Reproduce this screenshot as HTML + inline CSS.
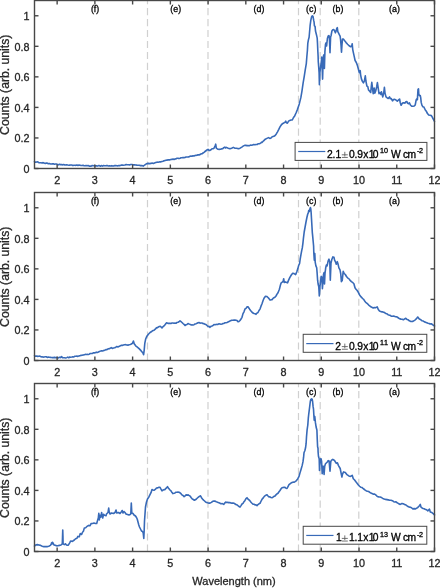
<!DOCTYPE html><html><head><meta charset="utf-8"><style>html,body{margin:0;padding:0;background:#fff;width:440px;height:588px;overflow:hidden}svg{display:block;will-change:transform;filter:blur(0.3px)}text{font-family:"Liberation Sans",sans-serif;fill:#262626;stroke:#262626;stroke-width:0.3}</style></head><body>
<svg width="440" height="588" viewBox="0 0 440 588">
<rect width="440" height="588" fill="#fff"/>
<line x1="147.5" y1="168.5" x2="147.5" y2="0.5" stroke="#d0d0d0" stroke-width="1.2" stroke-dasharray="7.1 3.85"/>
<line x1="208" y1="168.5" x2="208" y2="0.5" stroke="#d0d0d0" stroke-width="1.2" stroke-dasharray="7.1 3.85"/>
<line x1="298.5" y1="168.5" x2="298.5" y2="0.5" stroke="#d0d0d0" stroke-width="1.2" stroke-dasharray="7.1 3.85"/>
<line x1="320.2" y1="168.5" x2="320.2" y2="0.5" stroke="#d0d0d0" stroke-width="1.2" stroke-dasharray="7.1 3.85"/>
<line x1="358.8" y1="168.5" x2="358.8" y2="0.5" stroke="#d0d0d0" stroke-width="1.2" stroke-dasharray="7.1 3.85"/>
<polyline points="34.5,161.7 35.58,162.23 36.66,161.96 37.73,161.77 38.81,162.65 39.89,162.83 40.97,162.7 42.04,162.93 43.12,162.61 44.2,163.1 45.22,163.42 46.24,163.11 47.26,163.05 48.28,163.77 49.3,163.53 50.32,163.86 51.34,163.96 52.36,163.7 53.38,163.84 54.4,164.2 55.43,163.96 56.46,163.95 57.49,164.4 58.52,164.85 59.55,164.2 60.58,164.65 61.61,164.66 62.64,164.84 63.67,164.5 64.7,164.9 65.72,165 66.74,164.8 67.76,165.07 68.78,165.18 69.8,165.08 70.82,165.02 71.84,164.98 72.86,165.57 73.88,165.22 74.9,165.3 75.92,165.36 76.94,165 77.96,165.43 78.98,165.06 80,165.22 81.02,165.52 82.04,165.48 83.06,165.26 84.08,165.73 85.1,165.7 86.12,165.45 87.14,165.79 88.16,165.48 89.18,166.13 90.2,166.02 91.22,166.19 92.24,165.55 93.26,165.7 94.28,165.51 95.3,165.9 96.33,165.71 97.36,166.13 98.39,165.61 99.42,165.58 100.45,166.21 101.48,165.56 102.51,166.1 103.54,165.45 104.57,165.72 105.6,165.8 106.62,165.66 107.64,165.63 108.66,165.99 109.68,165.7 110.7,165.93 111.72,165.66 112.74,165.91 113.76,165.95 114.78,165.57 115.8,165.6 116.85,165.82 117.9,165.85 118.95,165.44 120,165.6 121.2,165.17 122.4,165.08 123.6,165.2 124.83,165.02 126.07,164.63 127.3,164.8 128.43,164.75 129.55,164.91 130.68,164.56 131.8,164.5 133.15,164.85 134.5,164.7 135.73,164.99 136.97,165.15 138.2,165.2 139.4,165.21 140.6,165.63 141.8,165.6 143.2,166.1 144.5,165.2 146.4,163.8 148.2,163.4 149.55,163.65 150.9,163.4 152.1,162.96 153.3,163.39 154.5,162.9 155.73,162.48 156.97,162.16 158.2,162.2 160,161.8 161,161.83 162,161.5 163,161.31 164,160.8 165,160.6 166,160.12 167,160.24 168,159.82 169,159.87 170,159.9 171,159.35 172,159.55 173,159.03 174,159.53 175,159 176,158.89 177,158.32 178,158.2 179,158.61 180,158.3 181,157.79 182,157.79 183,157.48 184,157.6 185,157.5 186,157.02 187,156.94 188,156.94 189,156.85 190,156.3 191,156.14 192,156.23 193,155.71 194,155.95 195,155.5 196,155.33 197,155.3 198,154.7 199,154.85 200,154.6 201,153.91 202,153.78 203,153 204,152.28 205,151.5 206,150.75 207,150 208,149.3 209,150.5 210,150.37 211,149.8 212,148.7 213,148.8 214,148.3 215,146 215.7,144.2 216.3,148.2 218,149.3 219.15,149.34 220.3,149.3 221.4,148.92 222.5,148.8 223.8,147.6 224.8,147.1 225.5,148 226.5,147.4 228.2,148.2 229.9,148.8 231.6,148.2 233.3,147.4 235,148.2 236.7,148.2 238.4,148.8 240.1,148.2 241.8,147.1 243.5,145.9 244.65,145.35 245.8,145.4 246.95,145.6 248.1,145.6 249.25,145.69 250.4,145.1 251.5,145.27 252.6,144.9 253.75,144.51 254.9,144.8 256.05,144.51 257.2,144.5 258.35,143.7 259.5,143.7 260.6,143.09 261.7,142.2 262,142.5 263.6,140.8 265.3,139.2 266.9,138.4 268.5,137.6 269.8,138.4 271,138 272.2,136.7 273.9,136.3 275.1,135.5 276.3,133.9 277.5,131.8 278.8,129.4 280,126.9 281.6,124.5 283.3,123.2 284.9,122.4 285.7,121.2 286.5,122.8 287.4,123.2 288.6,121.2 289.8,120.4 291,120 292.3,120 293.5,117.5 294.7,115.9 296,113 297.4,109.6 299.3,103.9 300.9,97.4 302,90.8 303.1,83.2 304.2,76.7 305.2,70.1 306.3,63.6 306.9,56 307.4,50.5 307.8,43.4 308.4,39.9 309.1,37.2 309.5,32.8 310.1,25.7 310.8,20.4 311.6,16.8 312.4,15.8 313.1,16.8 313.7,20.4 314.1,22.2 314.4,25.7 315.1,26.6 315.5,31 316.2,33.7 316.6,35.4 317.2,38.1 317.5,43.4 317.8,50.5 318.1,56 318.3,62 318.7,66.9 319.1,72.6 319.4,84.8 319.9,72.6 320.5,67.7 321.2,62.8 321.8,57.1 322.2,68.5 322.6,79.1 323,64.4 323.6,55.4 324.2,54.6 324.4,68.5 324.9,51.9 325.5,44.4 326.1,42.9 326.6,45.9 327.4,38.5 328.1,36.2 328.9,35.5 329.4,37.7 330,52.7 330.6,37 331.1,35.5 331.9,31 332.8,29.8 333.7,29.5 334.5,30.6 335.4,32.8 336.1,31 336.7,28.7 337.3,27.6 337.8,31.7 338.6,33.2 339.3,34.7 340.1,36.2 340.6,40 341.1,45.9 341.5,52.3 342,44.4 342.5,39.1 343.5,39.1 344.6,40.6 346.1,42.6 347.6,44.2 349.1,45.7 350.7,46.7 351.7,46.2 352.2,43.7 352.7,49.3 353.2,51.8 354.2,56.4 355.1,60.5 356.3,62.5 357.3,65.1 358.3,68.7 359.3,72.7 360.2,70.7 360.6,74.8 361.4,78.9 362.4,81.4 363.4,82.9 364.4,80.9 365.3,75.8 365.9,81 366.9,86.1 367.8,86.7 368.5,89.9 369.7,91.2 370.7,92.5 371.3,86.7 371.8,82.3 372.3,86.7 373.2,93.7 374.2,88 374.8,93.1 375.8,90.6 376.7,86.7 377.4,82.6 378,86.7 379,93.7 380.2,92.5 380.9,94.4 381.5,91.8 382.2,95 382.8,96.9 383.7,93.1 384.4,87.4 385,93.1 386,96.9 386.9,97.6 388.2,98.5 389.5,96.9 390.4,98.8 391.3,98.6 392.5,100.9 393.5,99.6 394.8,99.3 396.1,100.2 397.3,101.2 398.6,99.9 399.6,99 400.2,102.5 401.1,105.3 402.4,103.1 403.7,102.8 405,103.1 405.9,101.8 406.9,101.5 407.5,103.1 408.5,103.7 409.4,102.8 410.4,105 411.7,106.3 412.9,106.3 414.2,106 415.2,105 415.8,101.8 416.4,99.3 416.8,99 417.4,99.6 418,89.4 418.5,88.8 418.8,94.2 419.5,95.6 420.3,95.6 420.7,97.6 421.2,102.4 421.9,105.1 422.9,106.8 423.9,107.1 424.6,108.5 425.3,109.9 426.3,111.2 427.3,113.3 428.7,115 430,115.3 431.4,115.6 432.4,117.3 433.4,119.4 434.5,121.5" fill="none" stroke="#386ab8" stroke-width="1.6" stroke-linejoin="round" stroke-linecap="round"/>
<text style="fill:#000;stroke:#000" x="95.1" y="11.8" font-size="8.8" text-anchor="middle">(f)</text>
<text style="fill:#000;stroke:#000" x="175.7" y="11.8" font-size="8.8" text-anchor="middle">(e)</text>
<text style="fill:#000;stroke:#000" x="259" y="11.8" font-size="8.8" text-anchor="middle">(d)</text>
<text style="fill:#000;stroke:#000" x="311.2" y="11.8" font-size="8.8" text-anchor="middle">(c)</text>
<text style="fill:#000;stroke:#000" x="338" y="11.8" font-size="8.8" text-anchor="middle">(b)</text>
<text style="fill:#000;stroke:#000" x="394.5" y="11.8" font-size="8.8" text-anchor="middle">(a)</text>
<line x1="57.14" y1="168.5" x2="57.14" y2="164.5" stroke="#484848" stroke-width="1.4"/>
<line x1="57.14" y1="0.5" x2="57.14" y2="4.5" stroke="#484848" stroke-width="1.4"/>
<text x="57.14" y="183.9" font-size="10.8" text-anchor="middle">2</text>
<line x1="94.88" y1="168.5" x2="94.88" y2="164.5" stroke="#484848" stroke-width="1.4"/>
<line x1="94.88" y1="0.5" x2="94.88" y2="4.5" stroke="#484848" stroke-width="1.4"/>
<text x="94.88" y="183.9" font-size="10.8" text-anchor="middle">3</text>
<line x1="132.61" y1="168.5" x2="132.61" y2="164.5" stroke="#484848" stroke-width="1.4"/>
<line x1="132.61" y1="0.5" x2="132.61" y2="4.5" stroke="#484848" stroke-width="1.4"/>
<text x="132.61" y="183.9" font-size="10.8" text-anchor="middle">4</text>
<line x1="170.35" y1="168.5" x2="170.35" y2="164.5" stroke="#484848" stroke-width="1.4"/>
<line x1="170.35" y1="0.5" x2="170.35" y2="4.5" stroke="#484848" stroke-width="1.4"/>
<text x="170.35" y="183.9" font-size="10.8" text-anchor="middle">5</text>
<line x1="208.08" y1="168.5" x2="208.08" y2="164.5" stroke="#484848" stroke-width="1.4"/>
<line x1="208.08" y1="0.5" x2="208.08" y2="4.5" stroke="#484848" stroke-width="1.4"/>
<text x="208.08" y="183.9" font-size="10.8" text-anchor="middle">6</text>
<line x1="245.82" y1="168.5" x2="245.82" y2="164.5" stroke="#484848" stroke-width="1.4"/>
<line x1="245.82" y1="0.5" x2="245.82" y2="4.5" stroke="#484848" stroke-width="1.4"/>
<text x="245.82" y="183.9" font-size="10.8" text-anchor="middle">7</text>
<line x1="283.56" y1="168.5" x2="283.56" y2="164.5" stroke="#484848" stroke-width="1.4"/>
<line x1="283.56" y1="0.5" x2="283.56" y2="4.5" stroke="#484848" stroke-width="1.4"/>
<text x="283.56" y="183.9" font-size="10.8" text-anchor="middle">8</text>
<line x1="321.29" y1="168.5" x2="321.29" y2="164.5" stroke="#484848" stroke-width="1.4"/>
<line x1="321.29" y1="0.5" x2="321.29" y2="4.5" stroke="#484848" stroke-width="1.4"/>
<text x="321.29" y="183.9" font-size="10.8" text-anchor="middle">9</text>
<line x1="359.03" y1="168.5" x2="359.03" y2="164.5" stroke="#484848" stroke-width="1.4"/>
<line x1="359.03" y1="0.5" x2="359.03" y2="4.5" stroke="#484848" stroke-width="1.4"/>
<text x="359.03" y="183.9" font-size="10.8" text-anchor="middle">10</text>
<line x1="396.76" y1="168.5" x2="396.76" y2="164.5" stroke="#484848" stroke-width="1.4"/>
<line x1="396.76" y1="0.5" x2="396.76" y2="4.5" stroke="#484848" stroke-width="1.4"/>
<text x="396.76" y="183.9" font-size="10.8" text-anchor="middle">11</text>
<line x1="434.5" y1="168.5" x2="434.5" y2="164.5" stroke="#484848" stroke-width="1.4"/>
<line x1="434.5" y1="0.5" x2="434.5" y2="4.5" stroke="#484848" stroke-width="1.4"/>
<text x="434.5" y="183.9" font-size="10.8" text-anchor="middle">12</text>
<line x1="34.5" y1="168.5" x2="38.5" y2="168.5" stroke="#484848" stroke-width="1.4"/>
<line x1="434.5" y1="168.5" x2="430.5" y2="168.5" stroke="#484848" stroke-width="1.4"/>
<text x="29.5" y="172.9" font-size="10.8" text-anchor="end">0</text>
<line x1="34.5" y1="137.95" x2="38.5" y2="137.95" stroke="#484848" stroke-width="1.4"/>
<line x1="434.5" y1="137.95" x2="430.5" y2="137.95" stroke="#484848" stroke-width="1.4"/>
<text x="29.5" y="142.35" font-size="10.8" text-anchor="end">0.2</text>
<line x1="34.5" y1="107.41" x2="38.5" y2="107.41" stroke="#484848" stroke-width="1.4"/>
<line x1="434.5" y1="107.41" x2="430.5" y2="107.41" stroke="#484848" stroke-width="1.4"/>
<text x="29.5" y="111.81" font-size="10.8" text-anchor="end">0.4</text>
<line x1="34.5" y1="76.86" x2="38.5" y2="76.86" stroke="#484848" stroke-width="1.4"/>
<line x1="434.5" y1="76.86" x2="430.5" y2="76.86" stroke="#484848" stroke-width="1.4"/>
<text x="29.5" y="81.26" font-size="10.8" text-anchor="end">0.6</text>
<line x1="34.5" y1="46.32" x2="38.5" y2="46.32" stroke="#484848" stroke-width="1.4"/>
<line x1="434.5" y1="46.32" x2="430.5" y2="46.32" stroke="#484848" stroke-width="1.4"/>
<text x="29.5" y="50.72" font-size="10.8" text-anchor="end">0.8</text>
<line x1="34.5" y1="15.77" x2="38.5" y2="15.77" stroke="#484848" stroke-width="1.4"/>
<line x1="434.5" y1="15.77" x2="430.5" y2="15.77" stroke="#484848" stroke-width="1.4"/>
<text x="29.5" y="20.17" font-size="10.8" text-anchor="end">1</text>
<rect x="34.5" y="0.5" width="400" height="168" fill="none" stroke="#484848" stroke-width="1.4"/>
<text x="0" y="0" font-size="12.2" text-anchor="middle" transform="translate(9,84.8) rotate(-90)">Counts (arb. units)</text>
<rect x="295.1" y="142.4" width="131.8" height="18" fill="#fff" stroke="#484848" stroke-width="1"/>
<line x1="298.2" y1="151.5" x2="325.3" y2="151.5" stroke="#386ab8" stroke-width="1.2"/>
<text style="fill:#000;stroke:#000" transform="scale(1.03,1)" y="157.8" font-size="10" x="317.48 322.82 325.83 338.93 344.17 346.89 352.62 358.06 361.84 379.51 391.26 395.63">2.10.9x10Wcm</text>
<text style="fill:#000;stroke:#000" transform="scale(1.03,1)" y="153.2" font-size="7" x="369.03 372.82 404.76 406.84">10-2</text>
<g stroke="#5a5a5a" stroke-width="0.85"><line x1="341.8" y1="154.8" x2="347.8" y2="154.8"/><line x1="344.8" y1="151.8" x2="344.8" y2="156.5"/><line x1="341.8" y1="157.45" x2="347.8" y2="157.45"/></g>
<line x1="147.5" y1="360.5" x2="147.5" y2="192.5" stroke="#d0d0d0" stroke-width="1.2" stroke-dasharray="7.1 3.85"/>
<line x1="208" y1="360.5" x2="208" y2="192.5" stroke="#d0d0d0" stroke-width="1.2" stroke-dasharray="7.1 3.85"/>
<line x1="298.5" y1="360.5" x2="298.5" y2="192.5" stroke="#d0d0d0" stroke-width="1.2" stroke-dasharray="7.1 3.85"/>
<line x1="320.2" y1="360.5" x2="320.2" y2="192.5" stroke="#d0d0d0" stroke-width="1.2" stroke-dasharray="7.1 3.85"/>
<line x1="358.8" y1="360.5" x2="358.8" y2="192.5" stroke="#d0d0d0" stroke-width="1.2" stroke-dasharray="7.1 3.85"/>
<polyline points="34.5,355.7 35.58,356.17 36.66,355.93 37.73,356.41 38.81,356.25 39.89,356.14 40.97,356.73 42.04,356.89 43.12,357.08 44.2,357 45.22,356.81 46.24,356.76 47.26,357.38 48.28,357.11 49.3,357.29 50.32,357.37 51.34,357.49 52.36,357.61 53.38,357.6 54.4,357.4 55.42,357.64 56.43,357.58 57.45,357.66 58.47,357.84 59.48,357.19 60.5,357.6 61.5,356.6 62.5,357.6 63.6,357.73 64.7,357.8 65.72,358.07 66.73,357.62 67.75,357.12 68.77,357.74 69.78,357.02 70.8,357.2 71.83,357.07 72.85,356.76 73.88,356.92 74.9,356.31 75.92,356.23 76.95,356.13 77.97,356.4 79,355.9 80.03,355.73 81.05,355.37 82.08,355.32 83.1,354.99 84.12,354.88 85.15,354.39 86.17,354.56 87.2,354.4 88.21,354.54 89.22,354.2 90.24,353.48 91.25,353.48 92.26,353.46 93.28,352.89 94.29,352.86 95.3,352.7 96.33,352.15 97.35,352.47 98.38,352.05 99.4,351.54 100.42,351.13 101.45,350.73 102.47,350.95 103.5,350.6 104.67,350.32 105.83,349.61 107,349.6 108.35,348.75 109.7,348.6 111.2,347.6 112.3,348.4 113.47,347.97 114.63,347.8 115.8,347.2 116.83,346.53 117.85,346.89 118.88,346.46 119.9,346.1 121.07,345.34 122.23,345.39 123.4,345 124.53,344.8 125.67,344.66 126.8,345 127.93,345.14 129.07,344.72 130.2,344.4 131.35,343.94 132.5,343.3 133.4,341 134.2,343.8 135.9,346.1 137.05,346.92 138.2,347.8 139.35,348.9 140.5,350.1 141.6,351.56 142.7,352.4 143.6,354.6 144.2,350.1 144.8,343.3 145.6,339.3 146.7,336.5 148.4,334.2 150.1,332.5 151.25,331.77 152.4,330.8 154.1,330.2 155.25,329.17 156.4,327.9 157.5,327.65 158.6,326.8 160.3,326.2 162,327.9 163.15,326.55 164.3,325.7 165.45,324.13 166.6,322.8 168.3,323.4 170,323.2 171,323.49 172,323.06 173,323 174,323.31 175,323.13 176,323.3 177,322.48 178,322.3 179,321.76 180,320.9 181,321.67 182,322.5 183,323.5 184,324.32 185,325.5 186,324.76 187,324.43 188,323.6 189,323.98 190,324.3 191,324.95 192,324.9 193,324.96 194,324.64 195,324 196,323.68 197,323.33 198,322.7 199,322.53 200,323.1 201,323 202,322.99 203,323.6 204,323.63 205,324.3 206,324.57 207,325.5 208,326.46 209,326.41 210,327.3 211,326.31 212,326 213,325.56 214,324.5 215,324.7 216,324.39 217,324.5 218,324.34 219,323.81 220,324 221,324.21 222,324.04 223,323.5 224,323.41 225,322.77 226,322.7 227,322.47 228,322 229,321.57 230,320.9 231,320.54 232,320.17 233,320.3 234,320.13 235,320 236,320.17 237,320.5 238,321.8 239,321.39 240,320.5 241,319 242,317.3 243,313.6 244,311.8 245,309 246,308.4 247,306.8 248,306.7 249,308.2 250,309.8 251,310.98 252,312.1 253,313.07 254,313.5 255,313.67 256,314.3 257,313.07 258,312.5 259,310.5 260,309.1 261,306.15 262,303.7 263,300.82 264,298.2 265.5,296.2 266.75,296.45 268,297.5 269,298.59 270,300 271,299.84 272,299.6 273,298.48 274,297.71 275,297.1 276,296 277,294.17 278,292.7 279.4,289.3 280.3,285.6 281.2,282.8 282.6,281.9 283.3,280.5 283.7,278.7 284.2,282.4 285.3,281.9 286.7,282.4 287.6,282.8 288.6,280.1 289.9,277.3 291.3,275 292.7,273.2 294.1,273.6 295.6,274.6 296.8,271.8 297.7,269.1 298.7,265.4 299.6,263.5 300.2,259 301,254.4 301.7,250.7 302.3,247.9 302.9,243.3 303.4,238.5 304.2,232 305.1,227 306,222 306.9,217.5 307.8,213.8 308.3,212.9 308.7,210.6 309.3,211.5 309.7,209.5 310.4,207.5 310.8,209 311.1,212 311.5,218.7 311.9,225.5 312.3,232.3 312.8,237.4 313.2,241.7 313.6,246 313.8,252.6 314.3,260.2 314.8,253.5 315.2,262.1 315.9,265.9 316.7,267.8 317.1,272.6 317.6,280.2 318.1,284 318.8,286.9 319.3,295.9 320,285.9 320.7,280.2 321.2,276.4 321.9,277.3 322.4,288.8 323.1,280.2 323.5,274.5 324.1,272.6 324.5,284 325,273.5 325.7,267.8 326.4,265 327.1,265.9 328.1,261.1 329,259.2 329.8,262.1 330.3,280.2 331,263 331.9,259.2 332.9,256.9 334,257.3 334.6,260.2 335.6,262.2 336.3,264.3 337.3,261.7 338.1,264.3 338.9,267.9 340,269.9 340.7,273.5 341.4,281.6 342.2,280.6 343.2,271.4 344.2,273.5 345.3,274.5 346.5,276.5 347.8,278.1 348.8,278.6 349.9,280.1 351.4,281.6 352.9,282.7 353.9,283.7 355,287.8 356,289.3 357,290.3 358.3,292.3 359.6,294.9 361.1,296.9 362.6,298.5 363.65,299.43 364.7,301 365.7,302.4 366.7,303.1 367.7,303.92 368.7,305.1 370,306.07 371.3,307.1 373.2,307.9 374.35,307.63 375.5,307.8 377.2,306.9 378.3,309.5 379.5,311.1 380.57,311.43 381.63,311.86 382.7,311.9 383.77,312.26 384.83,312.81 385.9,313.5 386.97,313.81 388.03,314.68 389.1,315.1 390.17,315.28 391.23,316.18 392.3,316.3 393.33,316.12 394.37,316.34 395.4,316.7 396.6,316.76 397.8,317.5 398.87,318.22 399.93,318.86 401,319.1 402.2,319.26 403.4,319.8 404.6,318.94 405.8,318.3 407,319.39 408.2,319.8 409.35,320.8 410.5,321.4 411.7,321.53 412.9,321.4 414.1,320.58 415.3,319.8 416.5,318.63 417.7,317 419.3,319.1 420.9,319.8 422.1,320.79 423.3,321.1 424.45,321.86 425.6,322.2 426.8,322.87 428,323.3 429.07,323.43 430.13,324.02 431.2,323.8 432.4,324.55 433.6,325.4 434.5,326" fill="none" stroke="#386ab8" stroke-width="1.6" stroke-linejoin="round" stroke-linecap="round"/>
<text style="fill:#000;stroke:#000" x="95.1" y="203.8" font-size="8.8" text-anchor="middle">(f)</text>
<text style="fill:#000;stroke:#000" x="175.7" y="203.8" font-size="8.8" text-anchor="middle">(e)</text>
<text style="fill:#000;stroke:#000" x="259" y="203.8" font-size="8.8" text-anchor="middle">(d)</text>
<text style="fill:#000;stroke:#000" x="311.2" y="203.8" font-size="8.8" text-anchor="middle">(c)</text>
<text style="fill:#000;stroke:#000" x="338" y="203.8" font-size="8.8" text-anchor="middle">(b)</text>
<text style="fill:#000;stroke:#000" x="394.5" y="203.8" font-size="8.8" text-anchor="middle">(a)</text>
<line x1="57.14" y1="360.5" x2="57.14" y2="356.5" stroke="#484848" stroke-width="1.4"/>
<line x1="57.14" y1="192.5" x2="57.14" y2="196.5" stroke="#484848" stroke-width="1.4"/>
<text x="57.14" y="375.9" font-size="10.8" text-anchor="middle">2</text>
<line x1="94.88" y1="360.5" x2="94.88" y2="356.5" stroke="#484848" stroke-width="1.4"/>
<line x1="94.88" y1="192.5" x2="94.88" y2="196.5" stroke="#484848" stroke-width="1.4"/>
<text x="94.88" y="375.9" font-size="10.8" text-anchor="middle">3</text>
<line x1="132.61" y1="360.5" x2="132.61" y2="356.5" stroke="#484848" stroke-width="1.4"/>
<line x1="132.61" y1="192.5" x2="132.61" y2="196.5" stroke="#484848" stroke-width="1.4"/>
<text x="132.61" y="375.9" font-size="10.8" text-anchor="middle">4</text>
<line x1="170.35" y1="360.5" x2="170.35" y2="356.5" stroke="#484848" stroke-width="1.4"/>
<line x1="170.35" y1="192.5" x2="170.35" y2="196.5" stroke="#484848" stroke-width="1.4"/>
<text x="170.35" y="375.9" font-size="10.8" text-anchor="middle">5</text>
<line x1="208.08" y1="360.5" x2="208.08" y2="356.5" stroke="#484848" stroke-width="1.4"/>
<line x1="208.08" y1="192.5" x2="208.08" y2="196.5" stroke="#484848" stroke-width="1.4"/>
<text x="208.08" y="375.9" font-size="10.8" text-anchor="middle">6</text>
<line x1="245.82" y1="360.5" x2="245.82" y2="356.5" stroke="#484848" stroke-width="1.4"/>
<line x1="245.82" y1="192.5" x2="245.82" y2="196.5" stroke="#484848" stroke-width="1.4"/>
<text x="245.82" y="375.9" font-size="10.8" text-anchor="middle">7</text>
<line x1="283.56" y1="360.5" x2="283.56" y2="356.5" stroke="#484848" stroke-width="1.4"/>
<line x1="283.56" y1="192.5" x2="283.56" y2="196.5" stroke="#484848" stroke-width="1.4"/>
<text x="283.56" y="375.9" font-size="10.8" text-anchor="middle">8</text>
<line x1="321.29" y1="360.5" x2="321.29" y2="356.5" stroke="#484848" stroke-width="1.4"/>
<line x1="321.29" y1="192.5" x2="321.29" y2="196.5" stroke="#484848" stroke-width="1.4"/>
<text x="321.29" y="375.9" font-size="10.8" text-anchor="middle">9</text>
<line x1="359.03" y1="360.5" x2="359.03" y2="356.5" stroke="#484848" stroke-width="1.4"/>
<line x1="359.03" y1="192.5" x2="359.03" y2="196.5" stroke="#484848" stroke-width="1.4"/>
<text x="359.03" y="375.9" font-size="10.8" text-anchor="middle">10</text>
<line x1="396.76" y1="360.5" x2="396.76" y2="356.5" stroke="#484848" stroke-width="1.4"/>
<line x1="396.76" y1="192.5" x2="396.76" y2="196.5" stroke="#484848" stroke-width="1.4"/>
<text x="396.76" y="375.9" font-size="10.8" text-anchor="middle">11</text>
<line x1="434.5" y1="360.5" x2="434.5" y2="356.5" stroke="#484848" stroke-width="1.4"/>
<line x1="434.5" y1="192.5" x2="434.5" y2="196.5" stroke="#484848" stroke-width="1.4"/>
<text x="434.5" y="375.9" font-size="10.8" text-anchor="middle">12</text>
<line x1="34.5" y1="360.5" x2="38.5" y2="360.5" stroke="#484848" stroke-width="1.4"/>
<line x1="434.5" y1="360.5" x2="430.5" y2="360.5" stroke="#484848" stroke-width="1.4"/>
<text x="29.5" y="364.9" font-size="10.8" text-anchor="end">0</text>
<line x1="34.5" y1="329.95" x2="38.5" y2="329.95" stroke="#484848" stroke-width="1.4"/>
<line x1="434.5" y1="329.95" x2="430.5" y2="329.95" stroke="#484848" stroke-width="1.4"/>
<text x="29.5" y="334.35" font-size="10.8" text-anchor="end">0.2</text>
<line x1="34.5" y1="299.41" x2="38.5" y2="299.41" stroke="#484848" stroke-width="1.4"/>
<line x1="434.5" y1="299.41" x2="430.5" y2="299.41" stroke="#484848" stroke-width="1.4"/>
<text x="29.5" y="303.81" font-size="10.8" text-anchor="end">0.4</text>
<line x1="34.5" y1="268.86" x2="38.5" y2="268.86" stroke="#484848" stroke-width="1.4"/>
<line x1="434.5" y1="268.86" x2="430.5" y2="268.86" stroke="#484848" stroke-width="1.4"/>
<text x="29.5" y="273.26" font-size="10.8" text-anchor="end">0.6</text>
<line x1="34.5" y1="238.32" x2="38.5" y2="238.32" stroke="#484848" stroke-width="1.4"/>
<line x1="434.5" y1="238.32" x2="430.5" y2="238.32" stroke="#484848" stroke-width="1.4"/>
<text x="29.5" y="242.72" font-size="10.8" text-anchor="end">0.8</text>
<line x1="34.5" y1="207.77" x2="38.5" y2="207.77" stroke="#484848" stroke-width="1.4"/>
<line x1="434.5" y1="207.77" x2="430.5" y2="207.77" stroke="#484848" stroke-width="1.4"/>
<text x="29.5" y="212.17" font-size="10.8" text-anchor="end">1</text>
<rect x="34.5" y="192.5" width="400" height="168" fill="none" stroke="#484848" stroke-width="1.4"/>
<text x="0" y="0" font-size="12.2" text-anchor="middle" transform="translate(9,276.8) rotate(-90)">Counts (arb. units)</text>
<rect x="303.2" y="334.3" width="123.6" height="18" fill="#fff" stroke="#484848" stroke-width="1"/>
<line x1="306.25" y1="343.6" x2="333.5" y2="343.6" stroke="#386ab8" stroke-width="1.2"/>
<text style="fill:#000;stroke:#000" transform="scale(1.03,1)" y="349.6" font-size="10" x="325.53 338.93 344.17 346.89 352.62 358.06 361.84 379.51 391.26 395.63">20.9x10Wcm</text>
<text style="fill:#000;stroke:#000" transform="scale(1.03,1)" y="345" font-size="7" x="369.03 372.82 404.76 406.84">11-2</text>
<g stroke="#5a5a5a" stroke-width="0.85"><line x1="341.8" y1="346.6" x2="347.8" y2="346.6"/><line x1="344.8" y1="343.6" x2="344.8" y2="348.3"/><line x1="341.8" y1="349.25" x2="347.8" y2="349.25"/></g>
<line x1="147.5" y1="551.5" x2="147.5" y2="383.5" stroke="#d0d0d0" stroke-width="1.2" stroke-dasharray="7.1 3.85"/>
<line x1="208" y1="551.5" x2="208" y2="383.5" stroke="#d0d0d0" stroke-width="1.2" stroke-dasharray="7.1 3.85"/>
<line x1="298.5" y1="551.5" x2="298.5" y2="383.5" stroke="#d0d0d0" stroke-width="1.2" stroke-dasharray="7.1 3.85"/>
<line x1="320.2" y1="551.5" x2="320.2" y2="383.5" stroke="#d0d0d0" stroke-width="1.2" stroke-dasharray="7.1 3.85"/>
<line x1="358.8" y1="551.5" x2="358.8" y2="383.5" stroke="#d0d0d0" stroke-width="1.2" stroke-dasharray="7.1 3.85"/>
<polyline points="34.5,546.1 35.6,545 37.3,544.6 38.9,545 40.6,545.4 42.2,546.2 43.8,546.6 45.05,546.63 46.3,546.6 47.55,546.59 48.8,546.2 50.4,545.4 51.2,544.2 51.6,542.8 52,544 52.4,542.2 52.9,542.8 53.3,543.8 54.1,545 55.7,545.4 56.75,545.83 57.8,545.8 59.4,545.4 61,545 62.3,543.8 62.55,536 62.75,530 62.95,536 63.1,543.8 64.3,544.6 65.6,543.8 66,544.6 67.15,545.22 68.3,545.1 69.7,542.8 70.6,541 72.4,541.4 74.3,540 75.6,538.7 77,538.2 77.9,536.4 79.3,536.8 80.2,533.6 81.6,534.5 82.5,532.2 83.4,531.3 84.3,528.1 85.7,527.7 87.1,526.3 88.5,525.4 89.9,525.8 91.2,523.5 92.6,523.5 94,523.1 95.4,523.5 96.7,523.5 97.7,519.9 98.3,518 98.8,513.4 99.3,519.9 100.1,515.3 100.9,517.1 101.6,512.5 102.2,515.7 102.7,518 103.6,514.3 104.5,515.3 106,515.7 106.5,514 108,512.5 108.7,508 109.2,512 110,514 111.5,513 112.5,513.23 113.5,513.5 115,512.5 116,510 116.8,513 118.5,512.5 120,513.5 121.2,512 122.2,510.5 123,513 124,511.5 125,512.5 126,514 127.5,514.5 129,515 130.2,514.5 130.8,514 131.3,503 131.8,513 133,513.5 134,515 135.5,516 136.5,517.5 137.2,519 138,522 138.8,525 139.5,527 140.5,529 141.5,531 142.5,531.5 143.2,533 143.8,538.5 144.2,530 144.5,521 145,514 145.5,507 146.5,502 147.5,499 149,496.7 150,494.71 151,492.7 152,489.5 153,489.93 154,490.3 155.25,489.43 156.5,488 157.75,487.85 159,487.2 160,487.3 161,489.17 162,490.9 163,490.08 164,489.67 165,489.6 166.25,488.11 167.5,486.7 168.75,488.57 170,490 171,490.94 172,492.56 173,493.6 174,493.33 175,492.9 176,492.2 177,492.3 178,492.11 179,492.26 180,492.8 181,493.68 182,494.9 183.05,495.52 184.1,496.6 185.1,495.89 186.1,494.9 187.15,495.1 188.2,494.9 189.2,495.55 190.2,496.2 191.25,497.78 192.3,499 193.3,499.48 194.3,500.3 195.35,499.78 196.4,499 197.4,498 198.4,497.2 199.45,496.35 200.5,495.8 201.5,497.65 202.5,499 203.55,500.15 204.6,501 205.6,502.06 206.6,502.4 207.6,502.77 208.6,503.1 210,503.12 211.4,502.4 212.75,501.35 214.1,501 215.15,501.1 216.2,501.7 217.2,502.09 218.2,502.6 219.55,503.05 220.9,503.7 222.3,503.66 223.7,504.4 224.7,503.09 225.7,502.1 226.7,502.52 227.7,502.4 228.75,502.63 229.8,502.6 230.8,503.03 231.8,503.1 233.15,503.05 234.5,503.5 235.9,504.61 237.3,505.1 238.65,506.26 240,507.1 241,505.6 242,503.98 243,503.36 244,501.7 245,500.4 246,498.67 247,497.7 248,499.12 249,499.95 250,500.9 251,502.28 252,503.25 253,504.1 254,504.2 255,504.98 256,504.91 257,505.6 258,504.56 259,503.78 260,503.3 261,501.26 262,499.3 263.25,497.86 264.5,496.1 265.75,495.34 267,494.8 268,496.01 269,496.9 270,496.81 271,497.55 272,497.7 273,497.16 274,496.28 275,496.1 276,494.84 277,493.83 278,493.2 279,491.73 280,490.5 281,488.88 282,487.8 283,487.51 284,487.28 285,487.4 286,488.24 287,488.5 288,486.54 289,484.7 290,483.84 291,483.05 292,482.6 293,482.16 294,482.3 295.1,481.64 296.2,480.8 297.7,478.9 298.9,476.7 300,472.9 301.1,469.2 302.2,465.4 303,461.7 303.6,457.2 304,452.7 304.9,450.5 305.6,447.5 306.1,443.7 306.5,437 307.1,429.9 307.8,425 308.3,418.2 308.7,414.5 309.6,407.3 310.3,401.5 310.9,399.3 311.6,398.8 312.2,399.4 312.6,401.5 313.1,406.7 313.5,409 313.9,415.7 314.2,420.2 314.8,416.5 315.4,422.4 316.1,427 316.9,430 317.3,440.2 317.6,446.7 318,448.3 318.1,452 318.5,456.5 319.2,458.9 319.5,470.4 320,463 320.6,458.9 321.1,458.9 321.6,461.4 322.2,473.6 322.8,466.3 323.4,466.3 324.1,474.4 324.7,466.3 325.5,463.8 326.3,463 327.1,462.2 328.3,460.6 329.1,461 330,471.2 330.8,461.4 331.6,460.2 332.8,459.4 334.5,460.5 336.3,463.4 337.4,462.8 338.5,465.6 340.2,468.5 341.4,474.7 341.9,477 342.5,474.2 343.6,471.9 345.3,472.5 347,474.7 348.8,475.9 350.5,476.4 352.2,475.3 353.3,478.7 354.4,479.8 356.1,482.1 357.25,483.43 358.4,485 359.55,486.25 360.7,487.2 361.85,487.42 363,488.4 364.1,489.24 365.2,490.1 366.35,490.91 367.5,491.2 368.65,491.48 369.8,492.3 370.9,493.09 372,493.5 373.15,494.13 374.3,494 375.45,494.61 376.6,495.8 377.75,496.71 378.9,496.9 380.2,497.08 381.5,497.6 382.85,498.4 384.2,499 385.55,499.4 386.9,499.6 388.25,499.87 389.6,500.3 391,500.24 392.4,500.7 393.7,501.7 394.75,501.94 395.8,501.7 396.8,502.54 397.8,503.1 398.85,503.71 399.9,504.4 400.9,504 401.9,503.5 403.25,503.82 404.6,504.4 406,504.99 407.4,506.2 408.75,506.84 410.1,507.1 411.45,507.76 412.8,508.9 414.2,508.66 415.6,508.9 416.6,508.19 417.6,507.6 419.4,505.8 420.3,504.4 421,507.1 422.05,507.98 423.1,508.5 424.1,508.68 425.1,509.2 426.45,509.73 427.8,510.8 429.5,509.2 430.3,511.9 431.9,512.6 433.2,513.63 434.5,514.9" fill="none" stroke="#386ab8" stroke-width="1.6" stroke-linejoin="round" stroke-linecap="round"/>
<text style="fill:#000;stroke:#000" x="95.1" y="394.8" font-size="8.8" text-anchor="middle">(f)</text>
<text style="fill:#000;stroke:#000" x="175.7" y="394.8" font-size="8.8" text-anchor="middle">(e)</text>
<text style="fill:#000;stroke:#000" x="259" y="394.8" font-size="8.8" text-anchor="middle">(d)</text>
<text style="fill:#000;stroke:#000" x="311.2" y="394.8" font-size="8.8" text-anchor="middle">(c)</text>
<text style="fill:#000;stroke:#000" x="338" y="394.8" font-size="8.8" text-anchor="middle">(b)</text>
<text style="fill:#000;stroke:#000" x="394.5" y="394.8" font-size="8.8" text-anchor="middle">(a)</text>
<line x1="57.14" y1="551.5" x2="57.14" y2="547.5" stroke="#484848" stroke-width="1.4"/>
<line x1="57.14" y1="383.5" x2="57.14" y2="387.5" stroke="#484848" stroke-width="1.4"/>
<text x="57.14" y="566.9" font-size="10.8" text-anchor="middle">2</text>
<line x1="94.88" y1="551.5" x2="94.88" y2="547.5" stroke="#484848" stroke-width="1.4"/>
<line x1="94.88" y1="383.5" x2="94.88" y2="387.5" stroke="#484848" stroke-width="1.4"/>
<text x="94.88" y="566.9" font-size="10.8" text-anchor="middle">3</text>
<line x1="132.61" y1="551.5" x2="132.61" y2="547.5" stroke="#484848" stroke-width="1.4"/>
<line x1="132.61" y1="383.5" x2="132.61" y2="387.5" stroke="#484848" stroke-width="1.4"/>
<text x="132.61" y="566.9" font-size="10.8" text-anchor="middle">4</text>
<line x1="170.35" y1="551.5" x2="170.35" y2="547.5" stroke="#484848" stroke-width="1.4"/>
<line x1="170.35" y1="383.5" x2="170.35" y2="387.5" stroke="#484848" stroke-width="1.4"/>
<text x="170.35" y="566.9" font-size="10.8" text-anchor="middle">5</text>
<line x1="208.08" y1="551.5" x2="208.08" y2="547.5" stroke="#484848" stroke-width="1.4"/>
<line x1="208.08" y1="383.5" x2="208.08" y2="387.5" stroke="#484848" stroke-width="1.4"/>
<text x="208.08" y="566.9" font-size="10.8" text-anchor="middle">6</text>
<line x1="245.82" y1="551.5" x2="245.82" y2="547.5" stroke="#484848" stroke-width="1.4"/>
<line x1="245.82" y1="383.5" x2="245.82" y2="387.5" stroke="#484848" stroke-width="1.4"/>
<text x="245.82" y="566.9" font-size="10.8" text-anchor="middle">7</text>
<line x1="283.56" y1="551.5" x2="283.56" y2="547.5" stroke="#484848" stroke-width="1.4"/>
<line x1="283.56" y1="383.5" x2="283.56" y2="387.5" stroke="#484848" stroke-width="1.4"/>
<text x="283.56" y="566.9" font-size="10.8" text-anchor="middle">8</text>
<line x1="321.29" y1="551.5" x2="321.29" y2="547.5" stroke="#484848" stroke-width="1.4"/>
<line x1="321.29" y1="383.5" x2="321.29" y2="387.5" stroke="#484848" stroke-width="1.4"/>
<text x="321.29" y="566.9" font-size="10.8" text-anchor="middle">9</text>
<line x1="359.03" y1="551.5" x2="359.03" y2="547.5" stroke="#484848" stroke-width="1.4"/>
<line x1="359.03" y1="383.5" x2="359.03" y2="387.5" stroke="#484848" stroke-width="1.4"/>
<text x="359.03" y="566.9" font-size="10.8" text-anchor="middle">10</text>
<line x1="396.76" y1="551.5" x2="396.76" y2="547.5" stroke="#484848" stroke-width="1.4"/>
<line x1="396.76" y1="383.5" x2="396.76" y2="387.5" stroke="#484848" stroke-width="1.4"/>
<text x="396.76" y="566.9" font-size="10.8" text-anchor="middle">11</text>
<line x1="434.5" y1="551.5" x2="434.5" y2="547.5" stroke="#484848" stroke-width="1.4"/>
<line x1="434.5" y1="383.5" x2="434.5" y2="387.5" stroke="#484848" stroke-width="1.4"/>
<text x="434.5" y="566.9" font-size="10.8" text-anchor="middle">12</text>
<line x1="34.5" y1="551.5" x2="38.5" y2="551.5" stroke="#484848" stroke-width="1.4"/>
<line x1="434.5" y1="551.5" x2="430.5" y2="551.5" stroke="#484848" stroke-width="1.4"/>
<text x="29.5" y="555.9" font-size="10.8" text-anchor="end">0</text>
<line x1="34.5" y1="520.95" x2="38.5" y2="520.95" stroke="#484848" stroke-width="1.4"/>
<line x1="434.5" y1="520.95" x2="430.5" y2="520.95" stroke="#484848" stroke-width="1.4"/>
<text x="29.5" y="525.35" font-size="10.8" text-anchor="end">0.2</text>
<line x1="34.5" y1="490.41" x2="38.5" y2="490.41" stroke="#484848" stroke-width="1.4"/>
<line x1="434.5" y1="490.41" x2="430.5" y2="490.41" stroke="#484848" stroke-width="1.4"/>
<text x="29.5" y="494.81" font-size="10.8" text-anchor="end">0.4</text>
<line x1="34.5" y1="459.86" x2="38.5" y2="459.86" stroke="#484848" stroke-width="1.4"/>
<line x1="434.5" y1="459.86" x2="430.5" y2="459.86" stroke="#484848" stroke-width="1.4"/>
<text x="29.5" y="464.26" font-size="10.8" text-anchor="end">0.6</text>
<line x1="34.5" y1="429.32" x2="38.5" y2="429.32" stroke="#484848" stroke-width="1.4"/>
<line x1="434.5" y1="429.32" x2="430.5" y2="429.32" stroke="#484848" stroke-width="1.4"/>
<text x="29.5" y="433.72" font-size="10.8" text-anchor="end">0.8</text>
<line x1="34.5" y1="398.77" x2="38.5" y2="398.77" stroke="#484848" stroke-width="1.4"/>
<line x1="434.5" y1="398.77" x2="430.5" y2="398.77" stroke="#484848" stroke-width="1.4"/>
<text x="29.5" y="403.17" font-size="10.8" text-anchor="end">1</text>
<rect x="34.5" y="383.5" width="400" height="168" fill="none" stroke="#484848" stroke-width="1.4"/>
<text x="0" y="0" font-size="12.2" text-anchor="middle" transform="translate(9,467.8) rotate(-90)">Counts (arb. units)</text>
<rect x="303.2" y="526.3" width="123.6" height="17.9" fill="#fff" stroke="#484848" stroke-width="1"/>
<line x1="306.25" y1="535.45" x2="333.5" y2="535.45" stroke="#386ab8" stroke-width="1.2"/>
<text style="fill:#000;stroke:#000" transform="scale(1.03,1)" y="541.4" font-size="10" x="326.21 338.93 344.17 346.89 352.62 358.06 361.84 379.51 391.26 395.63">11.1x10Wcm</text>
<text style="fill:#000;stroke:#000" transform="scale(1.03,1)" y="536.8" font-size="7" x="369.03 372.82 404.76 406.84">13-2</text>
<g stroke="#5a5a5a" stroke-width="0.85"><line x1="341.8" y1="538.4" x2="347.8" y2="538.4"/><line x1="344.8" y1="535.4" x2="344.8" y2="540.1"/><line x1="341.8" y1="541.05" x2="347.8" y2="541.05"/></g>
<text x="234" y="585.2" font-size="11.0" text-anchor="middle">Wavelength (nm)</text>
</svg></body></html>
